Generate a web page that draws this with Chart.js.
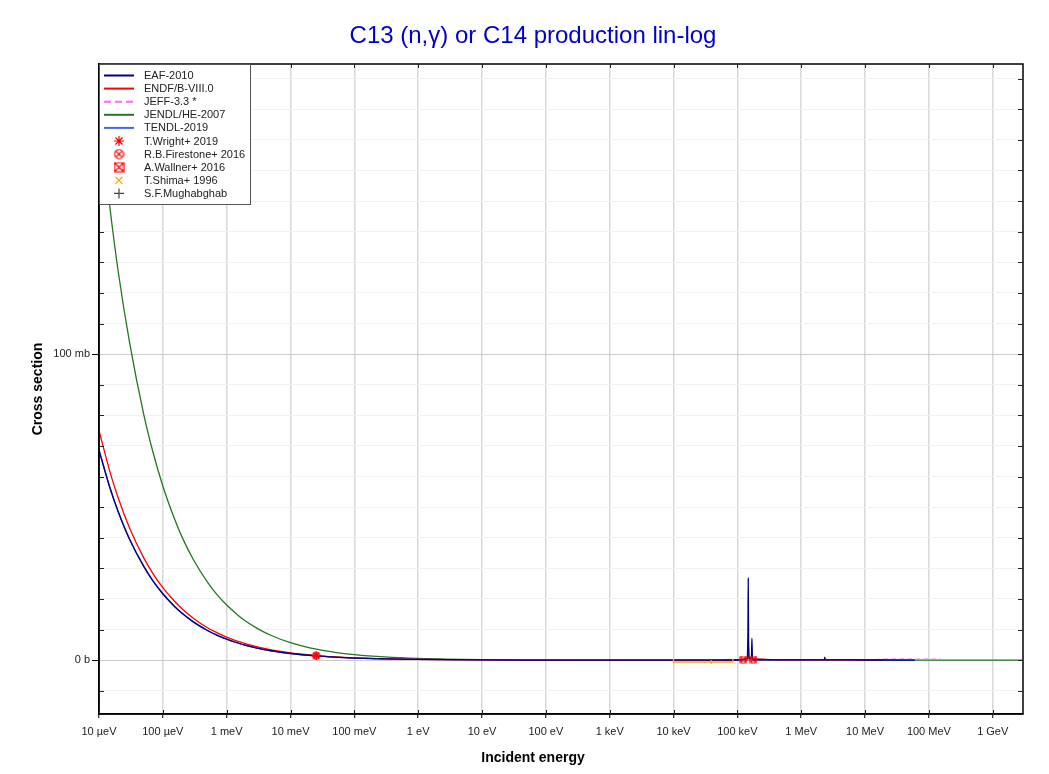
<!DOCTYPE html>
<html>
<head>
<meta charset="utf-8">
<script src="https://cdn.jsdelivr.net/npm/chart.js@4.4.0/dist/chart.umd.min.js"></script>
<style>
  html, body { margin: 0; padding: 0; background: #fff; }
  canvas { display: block; }
</style>
</head>
<body>
<canvas id="chart" width="1049" height="774"></canvas>
<script>
// axis ticks (energy in eV, cross section in mb)
const xTicks = [1e-5, 1e-4, 1e-3, 1e-2, 1e-1, 1, 10, 100, 1e3, 1e4, 1e5, 1e6, 1e7, 1e8, 1e9];
const xTickLabels = ['10 µeV', '100 µeV', '1 meV', '10 meV', '100 meV', '1 eV', '10 eV', '100 eV',
  '1 keV', '10 keV', '100 keV', '1 MeV', '10 MeV', '100 MeV', '1 GeV'];
const yTicks = [0, 100];
const yTickLabels = ['0 b', '100 mb'];
const titleText = 'C13 (n,γ) or C14 production lin-log';

// evaluated data
const eafE  = [1e-5, 1.5e-5, 2e-5, 3e-5, 5e-5, 7e-5, 1e-4, 1.5e-4, 2e-4, 3e-4, 5e-4, 7e-4, 1e-3, 1.5e-3, 2e-3, 3e-3, 5e-3, 1e-2, 2.53e-2, 5e-2, 0.1, 0.3, 1, 10, 100, 1e3, 1e4, 5e4, 1e5, 1.4e5, 1.46e5, 1.48e5, 1.5e5, 1.56e5, 1.66e5, 1.69e5, 1.72e5, 1.8e5, 5e5, 1e6, 2.3e6, 2.34e6, 2.38e6, 5e6, 1e7, 6e7];
const eafXS = [68.6, 56, 48.5, 39.6, 30.7, 25.9, 21.7, 17.7, 15.3, 12.5, 9.7, 8.2, 6.86, 5.6, 4.85, 3.96, 3.07, 2.17, 1.37, 0.97, 0.69, 0.4, 0.22, 0.07, 0.03, 0.02, 0.02, 0.03, 0.05, 0.4, 8, 26.8, 6, 0.4, 1, 7.2, 1, 0.1, 0.08, 0.08, 0.1, 1.0, 0.1, 0.06, 0.05, 0.03];

const endfE  = [1e-5, 1.5e-5, 2e-5, 3e-5, 5e-5, 7e-5, 1e-4, 1.5e-4, 2e-4, 3e-4, 5e-4, 7e-4, 1e-3, 1.5e-3, 2e-3, 3e-3, 5e-3, 1e-2, 2.53e-2, 5e-2, 0.1, 0.3, 1, 10, 100, 1e3, 1e4, 1e5, 1.46e5, 1.48e5, 1.5e5, 1e6, 1e7, 2e7];
const endfXS = [75, 61.2, 53, 43.3, 33.5, 28.3, 23.7, 19.4, 16.8, 13.7, 10.6, 9.0, 7.5, 6.1, 5.3, 4.33, 3.35, 2.37, 1.49, 1.06, 0.75, 0.43, 0.24, 0.08, 0.03, 0.02, 0.02, 0.05, 0.5, 2, 0.5, 0.08, 0.05, 0.04];

const jeffE  = [1e-5, 1.5e-5, 2e-5, 3e-5, 5e-5, 7e-5, 1e-4, 1.5e-4, 2e-4, 3e-4, 5e-4, 7e-4, 1e-3, 1.5e-3, 2e-3, 3e-3, 5e-3, 1e-2, 2.53e-2, 5e-2, 0.1, 0.3, 1, 10, 100, 1e3, 1e4, 1e5, 1e6, 1e7, 2e7, 1.5e8];
const jeffXS = [68.6, 56, 48.5, 39.6, 30.7, 25.9, 21.7, 17.7, 15.3, 12.5, 9.7, 8.2, 6.86, 5.6, 4.85, 3.96, 3.07, 2.17, 1.37, 0.97, 0.69, 0.4, 0.22, 0.07, 0.03, 0.02, 0.02, 0.05, 0.08, 0.05, 0.3, 0.3];

const jendlE  = [1e-5, 1.5e-5, 2e-5, 3e-5, 5e-5, 7e-5, 1e-4, 1.5e-4, 2e-4, 3e-4, 5e-4, 7e-4, 1e-3, 1.5e-3, 2e-3, 3e-3, 5e-3, 1e-2, 2e-2, 5e-2, 0.1, 0.3, 1, 10, 100, 1e3, 1e4, 1e5, 1e6, 1e7, 1e8, 1e9, 3e9];
const jendlXS = [180, 147, 127, 104, 80.5, 68, 56.9, 46.5, 40.2, 32.9, 25.5, 21.5, 18, 14.7, 12.7, 10.4, 8.05, 5.69, 4.02, 2.55, 1.8, 1.04, 0.57, 0.18, 0.06, 0.02, 0.01, 0.02, 0.03, 0.03, 0.02, 0.01, 0.01];

const tendlE  = [1e-5, 1.5e-5, 2e-5, 3e-5, 5e-5, 7e-5, 1e-4, 1.5e-4, 2e-4, 3e-4, 5e-4, 7e-4, 1e-3, 1.5e-3, 2e-3, 3e-3, 5e-3, 1e-2, 2.53e-2, 5e-2, 0.1, 0.3, 1, 10, 100, 1e3, 1e4, 1e5, 1.46e5, 1.48e5, 1.5e5, 1e6, 1e7, 6e7];
const tendlXS = [68.6, 56, 48.5, 39.6, 30.7, 25.9, 21.7, 17.7, 15.3, 12.5, 9.7, 8.2, 6.86, 5.6, 4.85, 3.96, 3.07, 2.17, 1.37, 0.97, 0.69, 0.4, 0.22, 0.07, 0.03, 0.02, 0.02, 0.05, 0.6, 3, 0.6, 0.08, 0.05, 0.03];

// experimental points
const wrightE = [0.0253];        const wrightXS = [1.5];
const firestoneE = [0.0253];     const firestoneXS = [1.45];
const wallnerE = [1.24e5, 1.78e5]; const wallnerXS = [0.2, 0.2];
const shimaE = [3.9e4];          const shimaXS = [-0.6];
const shimaLo = [1.0e4];         const shimaHi = [8.5e4];
const mughabE = [0.0253];        const mughabXS = [1.37];

const FONT = '"Liberation Sans", Arial, sans-serif';
Chart.defaults.font.family = FONT;

const pts = (xs, ys) => xs.map((x, i) => ({ x, y: ys[i] }));

function markCanvas(kind, size, color) {
  const c = document.createElement('canvas');
  c.width = c.height = size;
  const g = c.getContext('2d');
  g.strokeStyle = color;
  g.lineWidth = 1.2;
  const m = size / 2, r = size / 2 - 1;
  g.beginPath();
  if (kind === 'circle') {
    g.arc(m, m, r, 0, Math.PI * 2);
    const d = r * 0.707;
    g.moveTo(m - d, m - d); g.lineTo(m + d, m + d);
    g.moveTo(m + d, m - d); g.lineTo(m - d, m + d);
  } else {
    g.rect(1, 1, size - 2, size - 2);
    g.moveTo(1, 1); g.lineTo(size - 1, size - 1);
    g.moveTo(size - 1, 1); g.lineTo(1, size - 1);
  }
  g.stroke();
  return c;
}

function curve(label, xs, ys, color, order, dash) {
  return {
    label, data: pts(xs, ys), borderColor: color, backgroundColor: color,
    borderWidth: 1.3, borderDash: dash || [], pointRadius: 0, showLine: true,
    cubicInterpolationMode: 'monotone', order, isCurve: true
  };
}
function marks(label, xs, ys, color, style, radius, legendStyle) {
  return {
    label, data: pts(xs, ys), borderColor: color, backgroundColor: 'rgba(0,0,0,0)',
    pointStyle: style, pointRadius: radius, pointBorderWidth: 1.2, showLine: false,
    order: 0, legendStyle: legendStyle || style
  };
}

const datasets = [
  curve('EAF-2010', eafE, eafXS, '#000080', 1),
  curve('ENDF/B-VIII.0', endfE, endfXS, '#ff0000', 2),
  curve('JEFF-3.3 *', jeffE, jeffXS, '#ff66ff', 4, [5, 3]),
  curve('JENDL/HE-2007', jendlE, jendlXS, '#227722', 5),
  curve('TENDL-2019', tendlE, tendlXS, '#4169e1', 3),
  marks('T.Wright+ 2019', wrightE, wrightXS, '#ff0000', 'star', 4),
  marks('R.B.Firestone+ 2016', firestoneE, firestoneXS, '#ff0000', markCanvas('circle', 9, '#ff0000'), 4, markCanvas('circle', 11, '#ff0000')),
  marks('A.Wallner+ 2016', wallnerE, wallnerXS, '#ff0000', markCanvas('square', 8, '#ff0000'), 4, markCanvas('square', 11, '#ff0000')),
  marks('T.Shima+ 1996', shimaE, shimaXS, '#ffa500', 'line', 2),
  marks('S.F.Mughabghab', mughabE, mughabXS, '#444444', 'cross', 4)
];
// Shima: vertical tick on the plot, an x in the legend
datasets[8].legendStyle = 'crossRot';
datasets[8].pointRotation = 90;

const isMajorY = v => yTicks.some(t => Math.abs(t - v) < 1e-6);

const decor = {
  id: 'decor',
  afterDatasetsDraw(chart) {
    // T.Shima energy-range bar
    const { ctx, scales: { x, y } } = chart;
    ctx.save();
    ctx.strokeStyle = '#ffa500';
    ctx.lineWidth = 1.3;
    shimaE.forEach((e, i) => {
      const py = y.getPixelForValue(shimaXS[i]);
      const x0 = x.getPixelForValue(shimaLo[i]);
      const x1 = x.getPixelForValue(shimaHi[i]);
      ctx.beginPath();
      ctx.moveTo(x0, py - 3); ctx.lineTo(x0, py); ctx.lineTo(x1, py); ctx.lineTo(x1, py - 3);
      ctx.stroke();
    });
    ctx.restore();
  },
  afterDraw(chart) {
    const { ctx, chartArea: a, scales: { x, y } } = chart;
    ctx.save();
    // frame
    ctx.strokeStyle = '#000';
    ctx.lineWidth = 1.5;
    ctx.strokeRect(a.left, a.top, a.right - a.left, a.bottom - a.top);
    // minor ticks
    ctx.lineWidth = 1;
    ctx.strokeStyle = '#222';
    ctx.beginPath();
    y.ticks.forEach(t => {
      const py = Math.round(y.getPixelForValue(t.value)) + 0.5;
      if (!isMajorY(t.value)) { ctx.moveTo(a.left, py); ctx.lineTo(a.left + 5, py); }
      ctx.moveTo(a.right, py); ctx.lineTo(a.right - 5, py);
    });
    xTicks.forEach(v => {
      const px = Math.round(x.getPixelForValue(v)) + 0.5;
      ctx.moveTo(px, a.top); ctx.lineTo(px, a.top + 4);
      ctx.moveTo(px, a.bottom); ctx.lineTo(px, a.bottom - 4);
    });
    ctx.stroke();

    // title and x-axis title
    ctx.fillStyle = '#0000cc';
    ctx.font = '24px ' + FONT;
    ctx.textAlign = 'center';
    ctx.textBaseline = 'middle';
    ctx.fillText(titleText, 533, 36);
    ctx.fillStyle = '#000';
    ctx.font = 'bold 14px ' + FONT;
    ctx.fillText('Incident energy', 533, 758);

    // legend box
    const lx = a.left, ly = a.top, lw = 151, lh = 140;
    ctx.fillStyle = '#fff';
    ctx.fillRect(lx, ly, lw, lh);
    ctx.strokeStyle = '#555';
    ctx.lineWidth = 1;
    ctx.strokeRect(lx + 0.5, ly + 0.5, lw, lh);
    ctx.font = '11px ' + FONT;
    ctx.textAlign = 'left';
    chart.data.datasets.forEach((ds, i) => {
      const cy = ly + 11.5 + i * 13.1;
      if (ds.isCurve) {
        ctx.save();
        ctx.strokeStyle = ds.borderColor;
        ctx.lineWidth = 2;
        ctx.setLineDash(ds.borderDash.length ? [7, 4] : []);
        ctx.beginPath();
        ctx.moveTo(lx + 5, cy); ctx.lineTo(lx + 35, cy);
        ctx.stroke();
        ctx.restore();
      } else {
        ctx.save();
        ctx.strokeStyle = ds.borderColor;
        ctx.fillStyle = 'rgba(0,0,0,0)';
        ctx.lineWidth = 1.2;
        Chart.helpers.drawPoint(ctx, { pointStyle: ds.legendStyle, radius: 5, rotation: 0, borderWidth: 1.2 }, lx + 20, cy);
        ctx.restore();
      }
      ctx.fillStyle = '#222';
      ctx.fillText(ds.label, lx + 45, cy + 0.5);
    });
    ctx.restore();
  }
};

new Chart(document.getElementById('chart'), {
  type: 'line',
  data: { datasets },
  plugins: [decor],
  options: {
    responsive: false,
    animation: false,
    devicePixelRatio: 1,
    layout: { padding: { top: 64, right: 26, bottom: 0, left: 0 } },
    plugins: { legend: { display: false }, tooltip: { enabled: false }, title: { display: false } },
    scales: {
      x: {
        type: 'logarithmic',
        min: 1e-5,
        max: 2.98e9,
        afterBuildTicks: s => { s.ticks = xTicks.map(v => ({ value: v })); },
        afterFit: s => { s.height = 60; },
        ticks: {
          autoSkip: false, maxRotation: 0, padding: 7, color: '#222',
          font: { size: 11 },
          callback: (v, i) => xTickLabels[i]
        },
        grid: { color: '#d8d8d8', lineWidth: 1.5, tickLength: 4, tickColor: '#000', tickWidth: 1 },
        border: { display: true, color: '#000', width: 1.5 }
      },
      y: {
        type: 'linear',
        min: -17.6,
        max: 194.8,
        afterFit: s => { s.width = 99; },
        ticks: {
          stepSize: 10, includeBounds: false, autoSkip: false, padding: 2, color: '#222',
          font: { size: 11 },
          callback: v => {
            const k = yTicks.findIndex(t => Math.abs(t - v) < 1e-6);
            return k >= 0 ? yTickLabels[k] : '';
          }
        },
        grid: {
          color: c => (c.tick && isMajorY(c.tick.value)) ? '#cccccc' : '#f2f2f2',
          tickColor: c => (c.tick && isMajorY(c.tick.value)) ? '#000' : 'rgba(0,0,0,0)',
          lineWidth: 1, tickLength: 7
        },
        border: { display: true, color: '#000', width: 1.5 },
        title: {
          display: true, text: 'Cross section', color: '#000',
          font: { size: 14, weight: 'bold' }, padding: { top: 30, bottom: 0 }
        }
      }
    }
  }
});
</script>
</body>
</html>
